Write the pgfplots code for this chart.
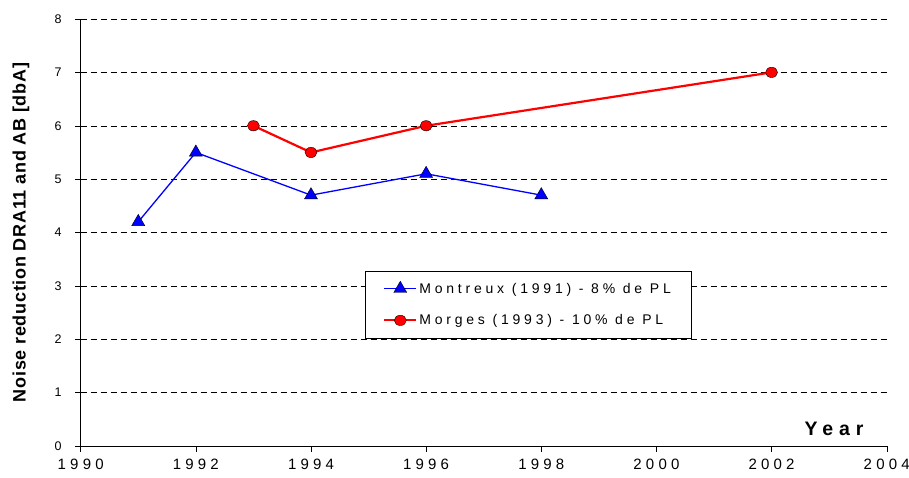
\documentclass[border=0pt]{standalone}
\usepackage{fontspec}
\setmainfont{Liberation Sans}
\usepackage{pgfplots}
\pgfplotsset{compat=1.18}
\begin{document}
\begin{tikzpicture}
\useasboundingbox (-80.7pt,-31pt) rectangle (828.3pt,446pt);
\begin{axis}[
at={(0pt,0pt)}, anchor=south west,
scale only axis,
width=806pt, height=427pt,
xmin=1990, xmax=2004, ymin=0, ymax=8,
xtick={1990,1992,...,2004},
ytick={0,1,...,8},
axis x line*=bottom, axis y line*=left,
/pgf/number format/assume math mode=true,
xticklabel={\addfontfeature{LetterSpace=28}\pgfmathprintnumber[1000 sep={}]{\tick}},
yticklabel={\pgfmathprintnumber{\tick}},
xticklabel style={font=\fontsize{15}{17}\selectfont, yshift=-4pt},
yticklabel style={font=\fontsize{12.5}{14}\selectfont, xshift=-10pt},
tick align=outside,
major tick length=5.5pt,
tick style={black, thin},
axis line style={black, thin},
ymajorgrids,
grid style={black, thin, dash pattern=on 6pt off 4pt},
ylabel={\bfseries Noise reduction DRA11 and AB [dbA]},
ylabel style={font=\fontsize{18}{20}\selectfont\addfontfeature{LetterSpace=4},
  at={(axis description cs:0,0.5)}, anchor=center, yshift=59.7pt},
legend style={at={(axis cs:1997.77,2.65)}, anchor=center, draw=black, thin,
  font=\fontsize{14}{16}\selectfont\addfontfeature{LetterSpace=27},
  row sep=16pt, inner xsep=18pt, inner ysep=10pt},
legend cell align=left,
legend image code/.code={
  \draw[mark repeat=2, mark phase=2] plot coordinates {(0pt,0pt) (16pt,0pt) (32pt,0pt)};},
]
\draw[black, thin] (rel axis cs:1,0) -- (rel axis cs:1,1);
\addplot[blue, line width=1.3pt, mark=triangle*, mark size=7.5pt,
  mark options={fill=blue, draw=black, thin, solid}]
  coordinates {(1991,4.2) (1992,5.5) (1994,4.7) (1996,5.1) (1998,4.7)};
\addlegendentry{Montreux (1991) - 8\% de PL}
\addplot[red, line width=2.2pt, mark=*, mark size=6pt,
  mark options={fill=red, draw=black, thin, solid, yscale=0.86}]
  coordinates {(1993,6) (1994,5.5) (1996,6) (2002,7)};
\addlegendentry{Morges (1993) - 10\% de PL}
\node[anchor=base east, inner sep=0pt, font=\fontsize{19.5}{21}\selectfont\bfseries\addfontfeature{LetterSpace=30}]
  at (axis cs:2003.6,0.2) {Year};
\end{axis}
\end{tikzpicture}
\end{document}
